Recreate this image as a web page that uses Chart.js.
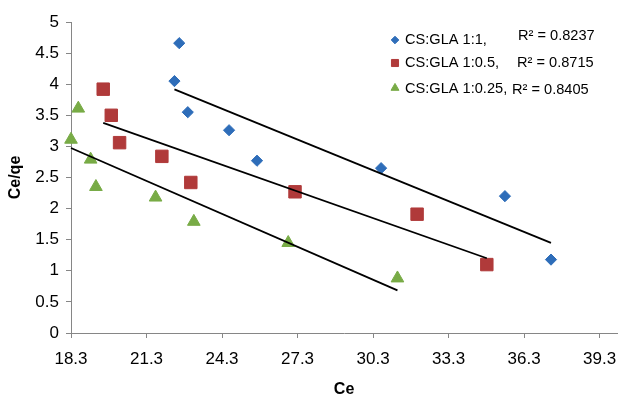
<!DOCTYPE html>
<html>
<head>
<meta charset="utf-8">
<title>Ce/qe vs Ce</title>
<script src="https://cdn.jsdelivr.net/npm/chart.js@4.4.1/dist/chart.umd.min.js"></script>
<style>
    html, body { margin: 0; padding: 0; background: #fff; }
    #wrap { width: 627px; height: 399px; }
</style>
</head>
<body>
<div id="wrap"><canvas id="isoChart" width="627" height="399"></canvas></div>
<script>
// Isotherm data (Ce vs Ce/qe) for each blend ratio
const seriesNames = ['CS:GLA 1:1,', 'CS:GLA 1:0.5,', 'CS:GLA 1:0.25,'];
const rSquaredLabels = ['R² = 0.8237', 'R² = 0.8715', 'R² = 0.8405'];

const ceBlue = [22.60, 22.41, 22.94, 24.58, 25.69, 30.62, 35.54, 37.37];
const ceqeBlue = [4.66, 4.05, 3.55, 3.26, 2.77, 2.65, 2.20, 1.18];

const ceRed = [19.58, 19.90, 20.23, 21.91, 23.06, 27.20, 32.05, 34.82];
const ceqeRed = [3.92, 3.50, 3.06, 2.84, 2.42, 2.27, 1.91, 1.10];

const ceGreen = [18.59, 18.30, 19.08, 19.29, 21.66, 23.18, 26.93, 31.27];
const ceqeGreen = [3.61, 3.11, 2.79, 2.35, 2.18, 1.79, 1.45, 0.88];

// Axis ticks
const xTicks = [18.3, 21.3, 24.3, 27.3, 30.3, 33.3, 36.3, 39.3];
const yTicks = [0, 0.5, 1, 1.5, 2, 2.5, 3, 3.5, 4, 4.5, 5];

const colors = ['#2E6DB9', '#B03A3A', '#78AB46'];
const styles = ['rectRot', 'rect', 'triangle'];
const radii = [5.6, 8.8, 7.3];
const FONT = '"Liberation Sans", Arial, sans-serif';

function toPoints(xs, ys) {
    return xs.map((x, i) => ({ x: x, y: ys[i] }));
}

// Least-squares line spanning the series' x range
function trendLine(xs, ys) {
    const n = xs.length;
    const mx = xs.reduce((a, b) => a + b, 0) / n;
    const my = ys.reduce((a, b) => a + b, 0) / n;
    let sxy = 0, sxx = 0;
    for (let i = 0; i < n; i++) {
        sxy += (xs[i] - mx) * (ys[i] - my);
        sxx += (xs[i] - mx) * (xs[i] - mx);
    }
    const slope = sxy / sxx;
    const x0 = Math.min(...xs), x1 = Math.max(...xs);
    return [
        { x: x0, y: my + slope * (x0 - mx) },
        { x: x1, y: my + slope * (x1 - mx) }
    ];
}

const groups = [[ceBlue, ceqeBlue], [ceRed, ceqeRed], [ceGreen, ceqeGreen]];

const datasets = [];
groups.forEach(([xs, ys], i) => {
    datasets.push({
        label: seriesNames[i],
        data: toPoints(xs, ys),
        pointStyle: styles[i],
        pointRadius: radii[i],
        pointHoverRadius: radii[i],
        backgroundColor: colors[i],
        borderColor: colors[i],
        borderWidth: 1,
        clip: false,
        order: 2
    });
});
groups.forEach(([xs, ys]) => {
    datasets.push({
        data: trendLine(xs, ys),
        showLine: true,
        pointRadius: 0,
        borderColor: '#000',
        borderWidth: 1.8,
        clip: false,
        order: 1
    });
});

// Legend with the R² notes, drawn inside the plot
const legendPlugin = {
    id: 'isoLegend',
    afterDraw(chart) {
        const ctx = chart.ctx;
        const rows = [
            { my: 40, ty: 40, rx: 518, ry: 36, mr: 3.8 },
            { my: 63, ty: 63, rx: 517, ry: 63, mr: 5.0 },
            { my: 88, ty: 89, rx: 512, ry: 90, mr: 4.6 }
        ];
        ctx.save();
        ctx.font = '14.6px ' + FONT;
        ctx.textBaseline = 'middle';
        ctx.textAlign = 'left';
        rows.forEach((r, i) => {
            ctx.fillStyle = colors[i];
            ctx.strokeStyle = colors[i];
            ctx.lineWidth = 1;
            Chart.helpers.drawPoint(ctx, { pointStyle: styles[i], radius: r.mr, rotation: 0, borderWidth: 1 }, 395, r.my);
            ctx.fillStyle = '#000';
            ctx.fillText(seriesNames[i], 405, r.ty);
            ctx.fillText(rSquaredLabels[i], r.rx, r.ry);
        });
        ctx.restore();
    }
};

const axisGrey = '#868686';

new Chart(document.getElementById('isoChart'), {
    type: 'scatter',
    data: { datasets: datasets },
    plugins: [legendPlugin],
    options: {
        responsive: false,
        animation: false,
        layout: { padding: { top: 22, right: 1, bottom: 0, left: 0 } },
        plugins: {
            legend: { display: false },
            tooltip: { enabled: false }
        },
        scales: {
            x: {
                type: 'linear',
                min: 18.3,
                max: 40,
                afterBuildTicks: (scale) => { scale.ticks = xTicks.map(v => ({ value: v })); },
                afterFit: (scale) => {
                    scale.height = 66;
                    scale.paddingLeft = 0;
                    scale.paddingRight = 0;
                },
                ticks: {
                    color: '#000',
                    font: { family: FONT, size: 17 },
                    padding: 11,
                    maxRotation: 0,
                    callback: (v) => v.toFixed(1)
                },
                grid: { drawOnChartArea: false, drawTicks: true, tickLength: 5, color: axisGrey },
                border: { color: axisGrey, width: 1 },
                title: {
                    display: true,
                    text: 'Ce',
                    color: '#000',
                    font: { family: FONT, size: 16, weight: 'bold' },
                    padding: { top: 0, bottom: 0 }
                }
            },
            y: {
                min: 0,
                max: 5,
                afterBuildTicks: (scale) => { scale.ticks = yTicks.map(v => ({ value: v })); },
                afterFit: (scale) => {
                    scale.width = 71;
                    scale.paddingTop = 0;
                    scale.paddingBottom = 0;
                },
                ticks: {
                    color: '#000',
                    font: { family: FONT, size: 17 },
                    padding: 7,
                    callback: (v) => String(v)
                },
                grid: { drawOnChartArea: false, drawTicks: true, tickLength: 5, color: axisGrey },
                border: { color: axisGrey, width: 1 },
                title: {
                    display: true,
                    text: 'Ce/qe',
                    color: '#000',
                    font: { family: FONT, size: 16, weight: 'bold' },
                    padding: { top: 6, bottom: 0 }
                }
            }
        }
    }
});
</script>
</body>
</html>
